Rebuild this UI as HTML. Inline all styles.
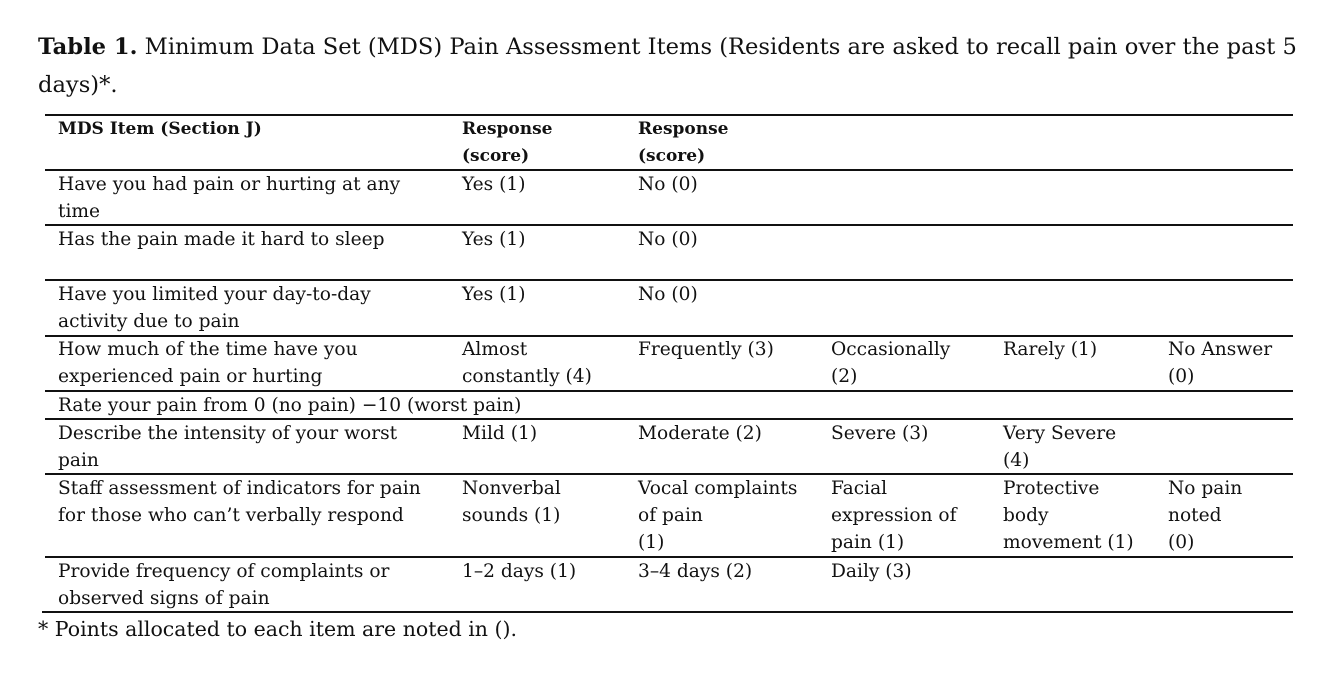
<!DOCTYPE html>
<html><head><meta charset="utf-8"><style>
body{margin:0;width:1342px;height:676px;background:#fff;position:relative;overflow:hidden;font-family:"DejaVu Serif","Liberation Serif",serif;color:#111}
.l{position:absolute;left:45px;width:1248px;height:2px;background:#111}
.t{position:absolute;font-size:18.6px;line-height:27px;white-space:nowrap}
.b{font-weight:bold;font-size:17px}
</style></head><body>
<div style="position:absolute;left:38px;top:28px;font-size:22.6px;line-height:38px;width:1300px;white-space:nowrap">
<span style="font-weight:bold">Table 1.</span> Minimum Data Set (MDS) Pain Assessment Items (Residents are asked to recall pain over the past 5<br>days)*.</div>
<div class="l" style="top:114px"></div>
<div class="l" style="top:169px"></div>
<div class="l" style="top:224px"></div>
<div class="l" style="top:279px"></div>
<div class="l" style="top:335px"></div>
<div class="l" style="top:390px"></div>
<div class="l" style="top:418px"></div>
<div class="l" style="top:473px"></div>
<div class="l" style="top:556px"></div>
<div class="l" style="top:611px;left:42px;width:1251px"></div>

<div class="t b" style="left:58px;top:116px">MDS Item (Section J)</div>
<div class="t b" style="left:462px;top:116px">Response<br>(score)</div>
<div class="t b" style="left:638px;top:116px">Response<br>(score)</div>

<div class="t" style="left:58px;top:171px">Have you had pain or hurting at any<br>time</div>
<div class="t" style="left:462px;top:171px">Yes (1)</div>
<div class="t" style="left:638px;top:171px">No (0)</div>

<div class="t" style="left:58px;top:226px">Has the pain made it hard to sleep</div>
<div class="t" style="left:462px;top:226px">Yes (1)</div>
<div class="t" style="left:638px;top:226px">No (0)</div>

<div class="t" style="left:58px;top:281px">Have you limited your day-to-day<br>activity due to pain</div>
<div class="t" style="left:462px;top:281px">Yes (1)</div>
<div class="t" style="left:638px;top:281px">No (0)</div>

<div class="t" style="left:58px;top:336px">How much of the time have you<br>experienced pain or hurting</div>
<div class="t" style="left:462px;top:336px">Almost<br>constantly (4)</div>
<div class="t" style="left:638px;top:336px">Frequently (3)</div>
<div class="t" style="left:831px;top:336px">Occasionally<br>(2)</div>
<div class="t" style="left:1003px;top:336px">Rarely (1)</div>
<div class="t" style="left:1168px;top:336px">No Answer<br>(0)</div>

<div class="t" style="left:58px;top:392px">Rate your pain from 0 (no pain) −10 (worst pain)</div>

<div class="t" style="left:58px;top:420px">Describe the intensity of your worst<br>pain</div>
<div class="t" style="left:462px;top:420px">Mild (1)</div>
<div class="t" style="left:638px;top:420px">Moderate (2)</div>
<div class="t" style="left:831px;top:420px">Severe (3)</div>
<div class="t" style="left:1003px;top:420px">Very Severe<br>(4)</div>

<div class="t" style="left:58px;top:475px">Staff assessment of indicators for pain<br>for those who can’t verbally respond</div>
<div class="t" style="left:462px;top:475px">Nonverbal<br>sounds (1)</div>
<div class="t" style="left:638px;top:475px">Vocal complaints<br>of pain<br>(1)</div>
<div class="t" style="left:831px;top:475px">Facial<br>expression of<br>pain (1)</div>
<div class="t" style="left:1003px;top:475px">Protective<br>body<br>movement (1)</div>
<div class="t" style="left:1168px;top:475px">No pain<br>noted<br>(0)</div>

<div class="t" style="left:58px;top:558px">Provide frequency of complaints or<br>observed signs of pain</div>
<div class="t" style="left:462px;top:558px">1–2 days (1)</div>
<div class="t" style="left:638px;top:558px">3–4 days (2)</div>
<div class="t" style="left:831px;top:558px">Daily (3)</div>

<div class="t" style="left:38px;top:614px;font-size:20.5px;line-height:30px">* Points allocated to each item are noted in ().</div>
</body></html>
